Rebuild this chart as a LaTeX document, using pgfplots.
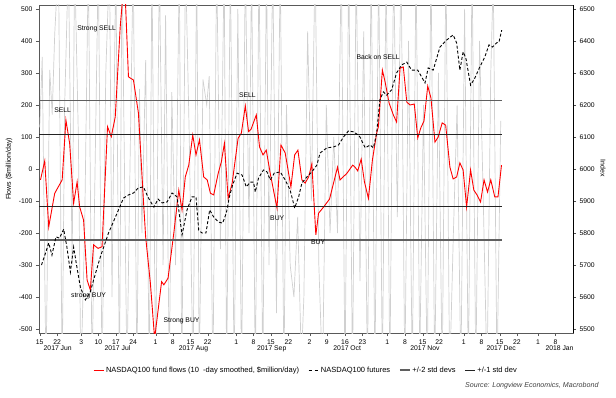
\documentclass[border=0pt]{standalone}
\usepackage{pgfplots}
\pgfplotsset{compat=1.18}
\usepackage{fontspec}
\setmainfont{Liberation Sans}

\pgfplotstableread{
d v
0.3 -34
2 25
3.6 -181
6 -76
9 -34
10.5 153
12 80
13.6 -107
15 -40
16 -118
17.6 -160
19 -347
20.3 -378
21.6 -237
23.4 -248
25 -243
27.2 132
28.7 101
30.3 163
32.3 445
34 600
35.6 288
37.6 278
39.6 175
41.6 -97
42.5 -212
44.4 -357
46.1 -530
48.9 -352
49.8 -362
51.5 -341
53.8 -200
55.8 -66
57.1 -128
58.4 -25
59.8 12
61.4 106
62.7 44
64.1 91
65.8 -25
67.2 -34
68.5 -76
69.8 -81
71.6 -14
72.9 23
74.1 80
75.6 -92
77.2 -45
79.6 96
80.9 112
82.5 197
83.8 117
84.8 124
86.9 169
88.2 69
89.6 44
90.9 59
92.5 -14
95.2 -122
96.8 75
98.5 50
100.8 -56
102.3 44
103.6 59
105.2 -34
106.5 -44
107.9 -25
109.2 16
110.8 -206
111.9 -138
113.9 -119
116.3 -94
117.9 -44
119.5 6
120.5 -34
123.2 -14
125.6 12
126.5 6
127.6 -6
129 31
130.3 -40
131.9 -92
133.5 28
135.2 112
135.9 132
137.5 309
138.6 272
140.2 206
141.9 169
143.2 147
144.6 315
145.9 319
147.3 209
148.6 200
150.3 203
151.7 97
152.9 128
154.2 150
155.7 259
157 222
158.6 84
159.9 100
161.5 144
162.9 137
164.6 6
165.9 -31
167.3 -25
168.6 19
169.9 -3
171.3 -119
172.9 -3
174.2 -66
175.5 -81
176.9 -103
178.3 -34
179.7 -72
181 -34
182.6 -87
183.9 -87
185.3 12
}\flows

\pgfplotstableread{
d v
0.7 5700
2.3 5737
3.6 5769
4.9 5731
6.5 5788
7.9 5784
9.6 5812
10.9 5756
12.3 5678
13.6 5756
14.9 5694
16.3 5631
18.3 5591
20.3 5616
21.6 5653
24.3 5725
27.6 5800
31.6 5872
33.6 5909
35.6 5919
37.6 5925
39.6 5941
41.6 5944
43 5920
44.1 5903
45.8 5881
47.5 5906
49.1 5894
51.1 5897
53.1 5925
55.1 5913
57.1 5794
59.1 5872
61.1 5913
62.7 5913
63.8 5809
65.1 5800
66.7 5800
68.2 5872
69.8 5850
71.8 5834
73.4 5831
74.9 5863
76.1 5913
77.4 5950
79.2 5987
81.2 5981
82.9 5944
84.5 5959
85.8 5959
86.5 5928
87.8 5972
89.8 5997
91.2 5991
92.5 5966
94.1 5987
96.5 5991
98.5 5966
100.5 5934
102.3 5878
103.9 5913
105.2 5956
107.2 5975
109.2 5991
111.2 6012
112.5 6050
115.2 6066
117.9 6069
119.9 6075
121.9 6100
123.9 6119
125.9 6116
127.9 6106
128.5 6100
130.6 6066
132.6 6075
133.9 6066
135.2 6112
136.5 6216
137.9 6241
139.2 6231
141.2 6247
143.2 6300
145.2 6325
147.3 6334
149.2 6309
151.7 6309
154.6 6269
155.9 6316
157.9 6309
160.6 6381
163.3 6403
165.9 6419
167.3 6394
168.6 6309
169.9 6366
171 6347
172.9 6262
174.6 6284
176.6 6319
178.6 6350
180.3 6388
181.7 6381
183.3 6394
184.3 6397
185.4 6434
}\futures

\pgfplotstableread{
d v
0 130
1 350
2.5 -650
4 310
5 170
6 420
7.5 650
9 -650
10 200
11.5 650
13 -300
14 650
15.5 100
16.5 -650
18 -200
19.5 650
21 -650
22 -100
23.5 650
25 -650
26.5 300
28 650
29 -400
30.5 650
32 -650
33 650
35 -650
36 -100
37.5 650
39 -650
40 250
41 -200
42.5 340
44 -650
45 650
46.5 -650
48 650
49.5 -300
50.5 480
52 -650
53 240
54.5 -300
56 650
57 -650
58.5 650
60 100
61.5 -650
63 650
64 -650
65.5 280
67 200
68 290
69.5 -650
71 650
72.5 -250
74 650
75 -650
76.5 650
78 -650
79.5 500
81 -650
82.5 650
84 -200
85 650
86.5 -650
88 650
89.5 -650
91 650
92 -300
93.5 650
95 -450
96.5 650
98 -650
99 200
100.5 -300
102 -400
103.5 -150
105 -600
106 -400
107.5 430
109 -100
110.5 650
112 -300
113.5 -650
115 200
116.5 -200
118 100
119.5 -200
121 650
122.5 -650
124 650
125.5 -650
127 650
128.5 -350
130 430
131.5 -650
133 650
134.5 -650
136 650
137.5 -650
139 650
140.5 -650
142 650
143.5 -150
145 650
146.5 -650
148 400
149.5 -650
151 650
152.5 -600
154 200
155.5 -650
157 650
158.5 -650
160 300
161.5 -650
163 650
164.5 -650
166 -200
167.5 200
169 -650
170.5 500
172 -650
173.5 650
175 -650
176.5 400
178 -100
179.5 -650
181 300
182 600
183.5 -650
185 150
}\daily

\definecolor{sd2}{RGB}{95,95,95}
\definecolor{sd1}{RGB}{35,35,35}
\definecolor{lgray}{RGB}{208,208,208}

\begin{document}
\begin{tikzpicture}[x=1pt,y=1pt]
\path[use as bounding box] (0,0) rectangle (616,397);
\begin{axis}[
  at={(39pt,64pt)}, anchor=south west, scale only axis,
  width=534pt, height=328pt,
  xmin=-0.3, xmax=214, ymin=-512.5, ymax=512.5,
  axis line style={black!65},
  xtick pos=bottom, ytick pos=left, tick align=outside,
  major tick length=3pt, tick style={black!65},
  ytick={-500,-400,-300,-200,-100,0,100,200,300,400,500},
  xtick={0,7.0,16.7,23.5,30.6,37.5,46.5,53.4,60.5,67.4,78.9,85.8,92.8,99.8,108.3,115.2,122.5,129.5,139.5,146.6,153.7,160.3,170.2,177.3,184.6,191.5,200,207},
  xticklabels={15,22,3,10,17,24,1,8,15,22,1,8,15,22,2,9,16,23,1,8,15,22,1,8,15,22,1,8},
  extra x ticks={7.2,31.2,61.7,93.1,123.4,154.6,185.2,208.6},
  extra x tick labels={2017 Jun,2017 Jul,2017 Aug,2017 Sep,2017 Oct,2017 Nov,2017 Dec,2018 Jan},
  extra x tick style={major tick length=0pt, tick label style={yshift=-9.5pt}},
  tick label style={font=\fontsize{6.8}{8}\selectfont},
  /pgf/number format/assume math mode=true,
  /pgf/number format/1000 sep={},
  legend style={at={(0.5,-0.113)}, anchor=center, draw=none, fill=none,
    legend columns=4, font=\fontsize{7.5}{8.5}\selectfont,
    /tikz/every even column/.append style={column sep=7pt},
    inner sep=0pt},
  legend cell align=left,
  legend image code/.code={\draw[#1] (0pt,0pt) -- (10pt,0pt);},
]
\addplot[lgray, line width=0.7pt, forget plot] table[x=d,y=v] {\daily};
\addplot[red, line width=0.9pt] table[x=d,y=v] {\flows};
\addlegendentry{NASDAQ100 fund flows (10~ -day smoothed, \$million/day)}
\addlegendimage{black, dashed, line width=0.9pt}
\addlegendentry{NASDAQ100 futures}
\addplot[sd2, line width=1.2pt] coordinates {(-0.3,215) (185.4,215)};
\addlegendentry{+/-2 std devs}
\addplot[sd1, line width=0.9pt] coordinates {(-0.3,109) (185.4,109)};
\addlegendentry{+/-1 std dev}
\addplot[sd2, line width=1.2pt, forget plot] coordinates {(-0.3,-222) (185.4,-222)};
\addplot[sd1, line width=0.9pt, forget plot] coordinates {(-0.3,-117) (185.4,-117)};
\begin{scope}[every node/.style={font=\fontsize{6.8}{8}\selectfont, inner sep=0.5pt}]
\node at (axis cs:22.8,437) {Strong SELL};
\node at (axis cs:9.2,184) {SELL};
\node at (axis cs:19.6,-397) {strong BUY};
\node at (axis cs:56.9,-475) {Strong BUY};
\node at (axis cs:83.3,231) {SELL};
\node at (axis cs:95.3,-153) {BUY};
\node at (axis cs:111.7,-228) {BUY};
\node at (axis cs:135.8,350) {Back on SELL};
\end{scope}
\end{axis}
\begin{axis}[
  at={(39pt,64pt)}, anchor=south west, scale only axis,
  width=534pt, height=328pt,
  xmin=-0.3, xmax=214, ymin=5487.5, ymax=6512.5,
  axis x line=none, axis y line*=right,
  axis line style={black, line width=0.7pt},
  tick align=outside, major tick length=3pt, tick style={black!70},
  ytick={5500,5600,5700,5800,5900,6000,6100,6200,6300,6400,6500},
  tick label style={font=\fontsize{6.8}{8}\selectfont},
  /pgf/number format/assume math mode=true,
  /pgf/number format/1000 sep={},
]
\addplot[black, dashed, dash pattern=on 3pt off 2pt, line width=0.9pt] table[x=d,y=v] {\futures};
\end{axis}
\node[rotate=90, font=\fontsize{7}{8}\selectfont] at (9,228) {Flows (\$million/day)};
\node[rotate=-90, font=\fontsize{7}{8}\selectfont] at (603,229) {Index};
\node[anchor=east, font=\fontsize{7.1}{8}\selectfont\itshape, text=black!75] at (602,11) {Source: Longview Economics, Macrobond};
\end{tikzpicture}
\end{document}
